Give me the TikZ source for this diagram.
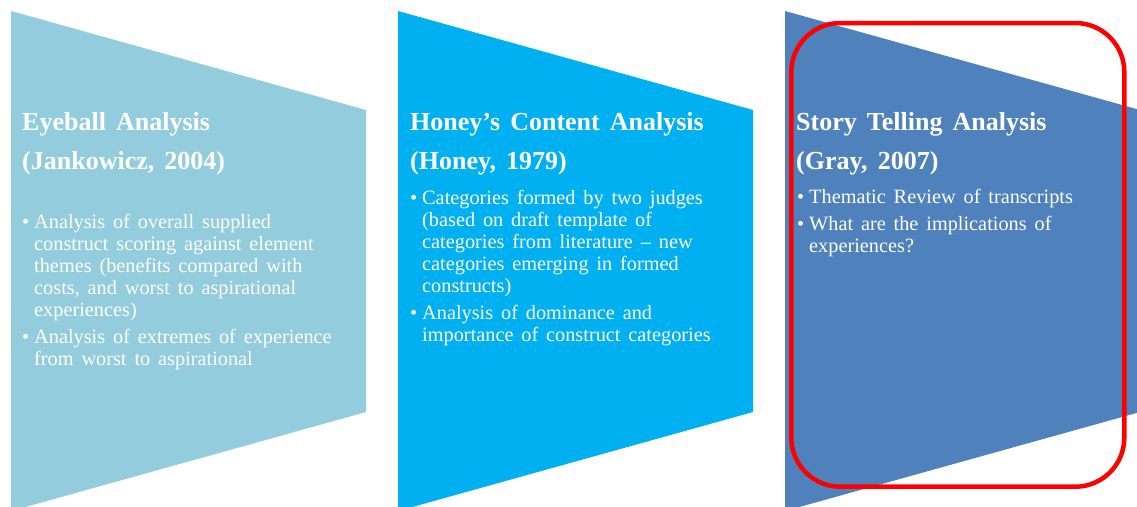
\documentclass[tikz,border=0pt]{standalone}
\usepackage{fontspec}
\setmainfont{Liberation Serif}
\newfontfamily\bodyfont{Liberation Serif}[WordSpace=1.76]
\newfontfamily\headfont{Liberation Serif}[WordSpace=1.55]
\definecolor{panelA}{HTML}{93CDDD}
\definecolor{panelB}{HTML}{00B0F0}
\definecolor{panelC}{HTML}{4F81BD}
\definecolor{hlred}{HTML}{FF0000}
\tikzset{
  headtxt/.style={anchor=base west, inner sep=0pt, text=white,
    font=\headfont\bfseries\fontsize{26}{38.5}\selectfont},
  bodytxt/.style={anchor=base west, inner sep=0pt, text=white,
    font=\bodyfont\fontsize{20.3}{22.1}\selectfont},
  hlbox/.style={draw=hlred, line width=4.5pt, rounded corners=49pt}
}
\newcommand\blt{\makebox[12pt][l]{\textbullet}}
\begin{document}
\begin{tikzpicture}[x=1pt,y=-1pt]
\useasboundingbox (0,0) rectangle (1137,506);
\clip (0,0) rectangle (1137,506);
% panels
\fill[panelA] (11,11) -- (366,110) -- (366,412) -- (11,511) -- cycle;
\fill[panelB] (398,11) -- (753,110) -- (753,412) -- (398,511) -- cycle;
\fill[panelC] (785,11) -- (1140,110) -- (1140,412) -- (785,511) -- cycle;
% titles
\node[headtxt] (t1) at (22,130.5) {\begin{tabular}[t]{@{}l@{}}Eyeball Analysis\\(Jankowicz, 2004)\end{tabular}};
\node[headtxt] (t2) at (410,130.5) {\begin{tabular}[t]{@{}l@{}}Honey’s Content Analysis\\(Honey, 1979)\end{tabular}};
\node[headtxt] (t3) at (796,130.5) {\begin{tabular}[t]{@{}l@{}}Story Telling Analysis\\(Gray, 2007)\end{tabular}};
% bodies
\node[bodytxt] (b1) at (22,228.3) {\begin{tabular}[t]{@{}l@{}l@{}}
\blt&Analysis of overall supplied\\
&construct scoring against element\\
&themes (benefits compared with\\
&costs, and worst to aspirational\\
&experiences)\\[4.5pt]
\blt&Analysis of extremes of experience\\
&from worst to aspirational
\end{tabular}};
\node[bodytxt] (b2) at (410,204) {\begin{tabular}[t]{@{}l@{}l@{}}
\blt&Categories formed by two judges\\
&(based on draft template of\\
&categories from literature – new\\
&categories emerging in formed\\
&constructs)\\[4.5pt]
\blt&Analysis of dominance and\\
&importance of construct categories
\end{tabular}};
\node[bodytxt] (b3) at (797,203.5) {\begin{tabular}[t]{@{}l@{}l@{}}
\blt&Thematic Review of transcripts\\[4.5pt]
\blt&What are the implications of\\
&experiences?
\end{tabular}};
% highlight
\draw[hlbox] (791.3,23) rectangle (1124.3,486.7);
\end{tikzpicture}
\end{document}
